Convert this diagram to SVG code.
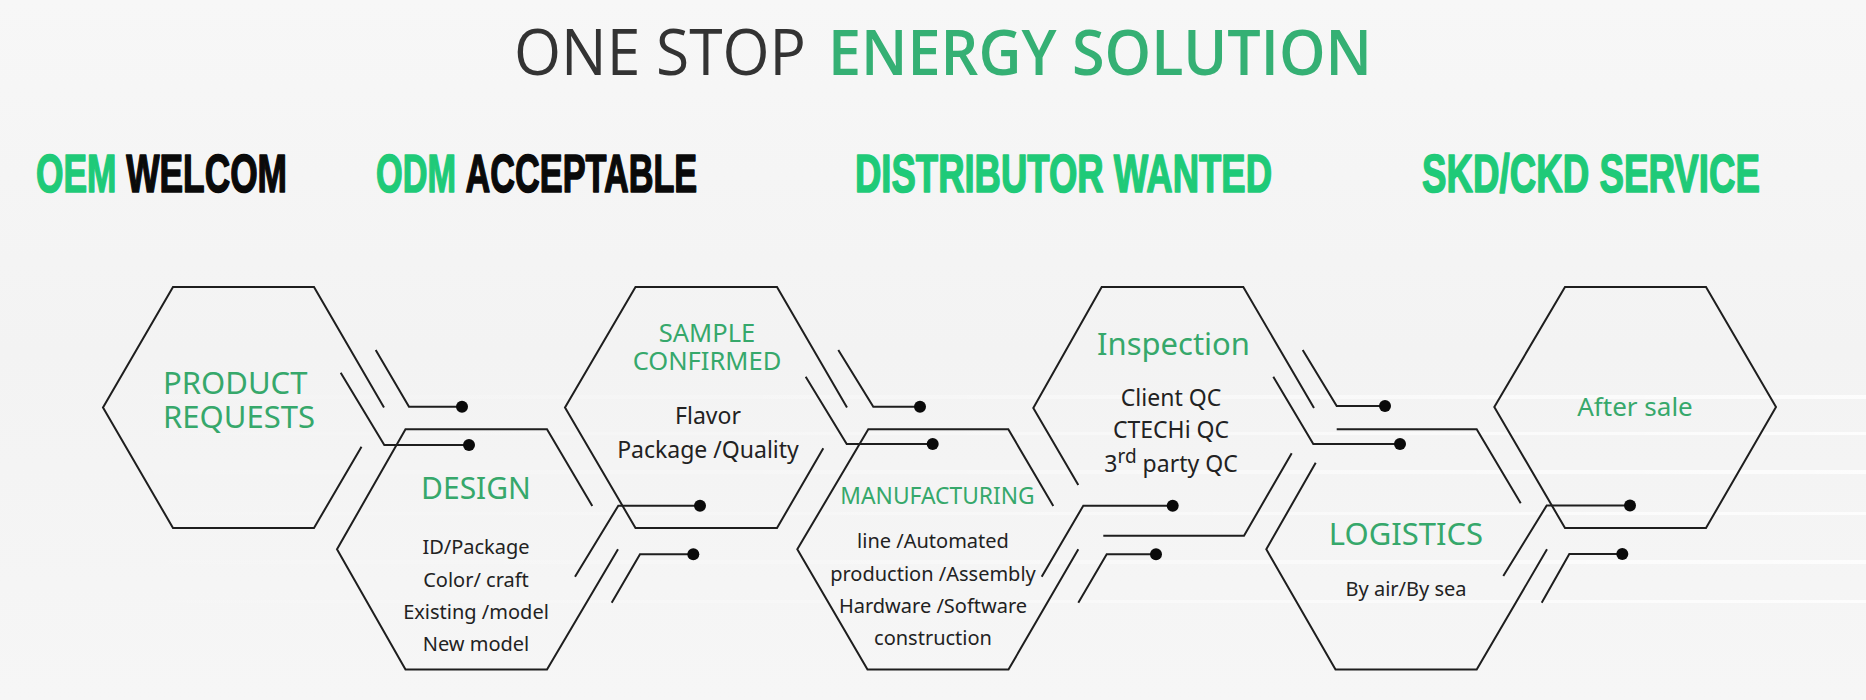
<svg xmlns="http://www.w3.org/2000/svg" width="1866" height="700" viewBox="0 0 1866 700">
<defs>
<linearGradient id="bg" x1="0" y1="0" x2="0" y2="1">
<stop offset="0" stop-color="#f7f7f7"/>
<stop offset="0.5" stop-color="#f3f3f3"/>
<stop offset="1" stop-color="#f6f6f6"/>
</linearGradient>
<linearGradient id="stripeFade" x1="0" y1="0" x2="1" y2="0">
<stop offset="0" stop-color="#ffffff" stop-opacity="0"/>
<stop offset="0.45" stop-color="#ffffff" stop-opacity="0.25"/>
<stop offset="1" stop-color="#ffffff" stop-opacity="0.8"/>
</linearGradient>
<style>
.hex{fill:none;stroke:#1e1e1e;stroke-width:2;stroke-linejoin:miter}
.con{fill:none;stroke:#1e1e1e;stroke-width:2}
.dot{fill:#0a0a0a}
.lbl{font-family:"Noto Sans","Open Sans",sans-serif;fill:#36a86b;text-anchor:middle}
.sub{font-family:"Noto Sans","Open Sans",sans-serif;fill:#222;text-anchor:middle}
.head{font-family:"Liberation Sans",Arial,sans-serif;font-weight:bold;font-size:54px;stroke-width:1.6;stroke-linejoin:round}
.g1{fill:#1fca78;stroke:#1fca78}
.bk{fill:#0a0a0a;stroke:#0a0a0a}
.stripe{fill:url(#stripeFade)}
</style>
</defs>
<rect x="0" y="0" width="1866" height="700" fill="url(#bg)"/>
<g id="background-stripes">
<rect class="stripe" x="0" y="395" width="1866" height="4"/>
<rect class="stripe" x="0" y="432" width="1866" height="3"/>
<rect class="stripe" x="0" y="470" width="1866" height="4"/>
<rect class="stripe" x="0" y="512" width="1866" height="3"/>
<rect class="stripe" x="0" y="560" width="1866" height="4"/>
<rect class="stripe" x="0" y="600" width="1866" height="3"/>
</g>

<g id="title">
<text x="514" y="75" font-family="'Open Sans','Noto Sans',sans-serif" font-weight="400" font-size="64" fill="#333333" textLength="292" lengthAdjust="spacingAndGlyphs">ONE STOP</text>
<text x="828" y="75" font-family="'Open Sans','Noto Sans',sans-serif" font-weight="600" font-size="64" fill="#35b074" textLength="544" lengthAdjust="spacingAndGlyphs">ENERGY SOLUTION</text>
</g>

<g id="subtitles">
<text class="head" transform="translate(36,192) scale(0.654,1)"><tspan class="g1">OEM</tspan> <tspan class="bk">WELCOM</tspan></text>
<text class="head" transform="translate(376,192) scale(0.635,1)"><tspan class="g1">ODM</tspan> <tspan class="bk">ACCEPTABLE</tspan></text>
<text class="head g1" transform="translate(855,192) scale(0.676,1)">DISTRIBUTOR WANTED</text>
<text class="head g1" transform="translate(1422,192) scale(0.68,1)">SKD/CKD SERVICE</text>
</g>

<g id="node-product-requests">
<polyline class="hex" points="361.5,446.7 314,528 173,528 103,407.5 173,287 314,287 384,407.5"/>
<text class="lbl" x="163" y="394" font-size="31" style="text-anchor:start">PRODUCT</text>
<text class="lbl" x="163" y="428" font-size="31" style="text-anchor:start">REQUESTS</text>
</g>

<g id="node-design">
<polyline class="hex" points="592.3,506 547,429.3 405.5,429.3 337,549.3 405.5,669.5 547,669.5 618,549.3"/>
<text class="lbl" x="476" y="499" font-size="30">DESIGN</text>
<text class="sub" x="476" y="554" font-size="20">ID/Package</text>
<text class="sub" x="476" y="587" font-size="20">Color/ craft</text>
<text class="sub" x="476" y="619" font-size="20">Existing /model</text>
<text class="sub" x="476" y="651" font-size="20">New model</text>
</g>

<g id="node-sample-confirmed">
<polyline class="hex" points="823.3,448.3 777,528 635.5,528 565,407.5 635.5,287 777,287 847,407.5"/>
<text class="lbl" x="707" y="342" font-size="25.5">SAMPLE</text>
<text class="lbl" x="707" y="370" font-size="25.5">CONFIRMED</text>
<text class="sub" x="708" y="424" font-size="23">Flavor</text>
<text class="sub" x="708" y="458" font-size="23">Package /Quality</text>
</g>

<g id="node-manufacturing">
<polyline class="hex" points="1053.3,506 1008.3,429.3 868.3,429.3 797.3,549.3 867.5,669.5 1008.5,669.5 1078.3,549.3"/>
<text class="lbl" x="937.5" y="504" font-size="22.8">MANUFACTURING</text>
<text class="sub" x="933" y="548" font-size="20">line /Automated</text>
<text class="sub" x="933" y="581" font-size="20">production /Assembly</text>
<text class="sub" x="933" y="613" font-size="20">Hardware /Software</text>
<text class="sub" x="933" y="645" font-size="20">construction</text>
</g>

<g id="node-inspection">
<polyline class="hex" points="1078.3,485 1033.3,408 1101.7,287 1243.3,287 1314,408"/>
<polyline class="hex" points="1291.7,453.3 1244,535.7 1103.3,535.7"/>
<text class="lbl" x="1173.5" y="355" font-size="31">Inspection</text>
<text class="sub" x="1171" y="406" font-size="23">Client QC</text>
<text class="sub" x="1171" y="438" font-size="23">CTECHi QC</text>
<text class="sub" x="1171" y="472" font-size="23">3<tspan dy="-9" font-size="19">rd</tspan><tspan dy="9"> party QC</tspan></text>
</g>

<g id="node-logistics">
<polyline class="hex" points="1520.7,503.3 1476.7,429.3 1336.7,429.3"/>
<polyline class="hex" points="1315.7,462.7 1266.3,549.3 1335.5,669.5 1476.7,669.5 1547,549.3"/>
<text class="lbl" x="1406" y="545" font-size="31">LOGISTICS</text>
<text class="sub" x="1406" y="596" font-size="20">By air/By sea</text>
</g>

<g id="node-after-sale">
<polygon class="hex" points="1494.3,407 1565,287 1706,287 1776,407 1706,528 1565,528"/>
<text class="lbl" x="1635" y="416" font-size="26">After sale</text>
</g>

<g id="connectors">
<polyline class="con" points="375.7,350 409,406.7 462,406.7"/>
<circle class="dot" cx="462" cy="406.7" r="6"/>
<polyline class="con" points="340.7,372.7 384.3,445 469,445"/>
<circle class="dot" cx="469" cy="445" r="6"/>

<polyline class="con" points="575,576.7 618.3,505.7 700,505.7"/>
<circle class="dot" cx="700" cy="505.7" r="6"/>
<polyline class="con" points="611.7,602.7 640,554.3 693.3,554.3"/>
<circle class="dot" cx="693.3" cy="554.3" r="6"/>

<polyline class="con" points="838.3,350 873.3,406.7 920,406.7"/>
<circle class="dot" cx="920" cy="406.7" r="6"/>
<polyline class="con" points="805.7,376.7 846.7,444 932.7,444"/>
<circle class="dot" cx="932.7" cy="444" r="6"/>

<polyline class="con" points="1041.7,576.7 1083.3,505.7 1172.7,505.7"/>
<circle class="dot" cx="1172.7" cy="505.7" r="6"/>
<polyline class="con" points="1078.3,602.7 1106.7,554.3 1156,554.3"/>
<circle class="dot" cx="1156" cy="554.3" r="6"/>

<polyline class="con" points="1302.7,350 1336.7,406 1385,406"/>
<circle class="dot" cx="1385" cy="406" r="6"/>
<polyline class="con" points="1273.3,376.7 1313.3,444 1400,444"/>
<circle class="dot" cx="1400" cy="444" r="6"/>

<polyline class="con" points="1503.3,576 1546.7,505.5 1630,505.5"/>
<circle class="dot" cx="1630" cy="505.5" r="6"/>
<polyline class="con" points="1541.7,602.7 1569.3,554 1622.3,554"/>
<circle class="dot" cx="1622.3" cy="554" r="6"/>
</g>
</svg>
